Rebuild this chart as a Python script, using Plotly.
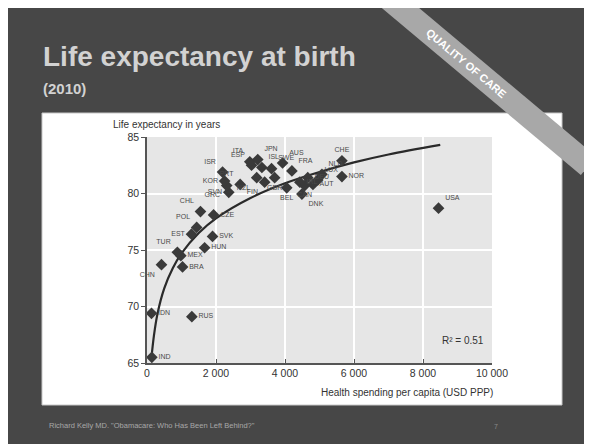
import numpy as np
import plotly.graph_objects as go

# ---------------- data ----------------
countries = ["IND", "IDN", "RUS", "CHN", "BRA", "MEX", "TUR", "HUN", "SVK", "CZE",
             "POL", "EST", "CHL", "SVN", "GRC", "KOR", "ISR", "PRT", "ESP", "ITA",
             "JPN", "ISL", "NZL", "FIN", "SWE", "AUS", "GBR", "FRA", "IRL", "BEL",
             "DEU", "AUT", "CAN", "DNK", "LUX", "NLD", "CHE", "NOR", "USA"]
spending = [140, 130, 1300, 420, 1030, 980, 880, 1670, 1900, 1930,
            1440, 1290, 1550, 2370, 2310, 2250, 2190, 2700, 3030, 2980,
            3210, 3330, 3180, 3410, 3610, 3930, 3700, 4200, 4430, 4050,
            4660, 4810, 4570, 4490, 4950, 5070, 5650, 5650, 8450]
life_exp = [65.5, 69.4, 69.1, 73.7, 73.5, 74.5, 74.8, 75.2, 76.2, 78.1,
            77.0, 76.4, 78.4, 80.1, 80.7, 81.1, 81.9, 80.8, 82.5, 82.8,
            83.0, 82.3, 81.4, 81.0, 82.2, 82.7, 81.4, 82.0, 81.0, 80.5,
            81.4, 80.8, 80.7, 79.95, 81.2, 81.7, 82.9, 81.5, 78.7]
label_pos = ["middle right", "middle right", "middle right", "bottom left", "middle right",
             "middle right", "top left", "middle right", "middle right", "middle right",
             "top left", "middle left", "top left", "middle left", "bottom left",
             "middle left", "top left", "top left", "top left", "top left",
             "top right", "top right", "bottom left", "bottom left", "top right",
             "top right", "bottom center", "top right", "middle right", "bottom center",
             "middle right", "middle right", "bottom center", "bottom right", "top right",
             "top right", "top center", "middle right", "top right"]
# logarithmic trend line
trend_x = [130, 200, 300, 500, 750, 1000, 1500, 2000, 3000, 4000, 5000, 6000, 7000, 8500]
trend_y = [65.5, 67.4, 69.3, 71.6, 73.4, 74.7, 76.5, 77.8, 79.6, 80.9, 81.9, 82.75, 83.45, 84.3]
x_ticks = [0, 2000, 4000, 6000, 8000, 10000]
x_ticklabels = ["0", "2 000", "4 000", "6 000", "8 000", "10 000"]
y_ticks = [65, 70, 75, 80, 85]
r_squared = "R² = 0.51"

# ---------------- geometry (page pixels -> paper) ----------------
OFF = 8                      # browser body margin
W, H = 592 - OFF, 444 - OFF
L, T = 147 - OFF, 137 - OFF
R = W - (492 - OFF)
B = H - (363 - OFF)
PW, PH = W - L - R, H - T - B


def px(x):
    return (x - OFF - L) / PW


def py(y):
    return (H - B - (y - OFF)) / PH


fig = go.Figure()
fig.add_trace(go.Scatter(x=trend_x, y=trend_y, mode="lines",
                         line=dict(color="#2a2a2a", width=2.2, shape="spline"),
                         hoverinfo="skip", showlegend=False, cliponaxis=False))
fig.add_trace(go.Scatter(x=spending, y=life_exp, mode="markers+text",
                         text=countries, textposition=label_pos,
                         textfont=dict(size=7, color="#4a4a4a", family="Liberation Sans"),
                         marker=dict(symbol="diamond", size=9, color="#3a3a3a",
                                     line=dict(width=0)),
                         showlegend=False, cliponaxis=False))

shapes = [
    dict(type="rect", xref="paper", yref="paper", x0=px(0), x1=px(600), y0=py(450), y1=py(0),
         fillcolor="#474747", line=dict(width=0), layer="below"),
    dict(type="rect", xref="paper", yref="paper", x0=px(42), x1=px(562), y0=py(405), y1=py(113),
         fillcolor="#ffffff", line=dict(width=1, color="#c8c8c8"), layer="below"),
    dict(type="rect", xref="paper", yref="paper", x0=px(146), x1=px(492), y0=py(363), y1=py(137),
         fillcolor="#e6e6e6", line=dict(width=0), layer="below"),
]

# ribbon
ang = np.deg2rad(40)
d = np.array([np.cos(ang), np.sin(ang)])
n = np.array([-np.sin(ang), np.cos(ang)])
c = np.array([466.0, 63.0])
pts = [c + s * d + t * n for s, t in [(-160, -12), (160, -12), (160, 12), (-160, 12)]]
path = "M " + " L ".join(f"{px(p[0])},{py(p[1])}" for p in pts) + " Z"
shapes.append(dict(type="path", xref="paper", yref="paper", path=path,
                   fillcolor="#a8a8a8", line=dict(width=0), layer="above"))

ann = [
    dict(text="<b>Life expectancy at birth</b>", x=px(41), y=py(57), xanchor="left", yanchor="middle",
         font=dict(size=28, color="#d2d2d2", family="Liberation Sans")),
    dict(text="<b>(2010)</b>", x=px(41), y=py(89), xanchor="left", yanchor="middle",
         font=dict(size=15, color="#d2d2d2", family="Liberation Sans")),
    dict(text="<b>QUALITY OF CARE</b>", x=px(466), y=py(63), xanchor="center", yanchor="middle",
         textangle=40, font=dict(size=11, color="#ffffff", family="Liberation Sans")),
    dict(text="Life expectancy in years", x=px(111), y=py(125), xanchor="left", yanchor="middle",
         font=dict(size=10, color="#333333", family="Liberation Sans")),
    dict(text="Health spending per capita (USD PPP)", x=px(495), y=py(392), xanchor="right",
         yanchor="middle", font=dict(size=10, color="#333333", family="Liberation Sans")),
    dict(text=r_squared, x=px(486), y=py(340), xanchor="right", yanchor="middle",
         font=dict(size=10, color="#333333", family="Liberation Sans")),
    dict(text='Richard Kelly MD. "Obamacare: Who Has Been Left Behind?"', x=px(47), y=py(425),
         xanchor="left", yanchor="middle", font=dict(size=7.5, color="#a8a8a8", family="Liberation Sans")),
    dict(text="7", x=px(496), y=py(426), xanchor="center", yanchor="middle",
         font=dict(size=7, color="#8a8a8a", family="Liberation Sans")),
]
for a in ann:
    a.update(xref="paper", yref="paper", showarrow=False)

fig.update_layout(
    width=W, height=H,
    margin=dict(l=L, r=R, t=T, b=B, pad=0),
    paper_bgcolor="#ffffff",
    plot_bgcolor="rgba(0,0,0,0)",
    shapes=shapes,
    annotations=ann,
    showlegend=False,
    xaxis=dict(range=[0, 10000], tickvals=x_ticks, ticktext=x_ticklabels,
               showgrid=True, gridcolor="#ffffff", gridwidth=1.5,
               showline=True, linecolor="#555555", linewidth=1.5,
               ticks="inside", ticklen=4, tickcolor="#555555",
               tickfont=dict(size=10.5, color="#333333", family="Liberation Sans"),
               zeroline=False, fixedrange=True),
    yaxis=dict(range=[65, 85], tickvals=y_ticks,
               showgrid=True, gridcolor="#ffffff", gridwidth=1.5,
               showline=True, linecolor="#555555", linewidth=1.5,
               ticks="outside", ticklen=4, tickcolor="#555555",
               tickfont=dict(size=10.5, color="#333333", family="Liberation Sans"),
               zeroline=False, fixedrange=True),
)

fig.write_html("out.html")
